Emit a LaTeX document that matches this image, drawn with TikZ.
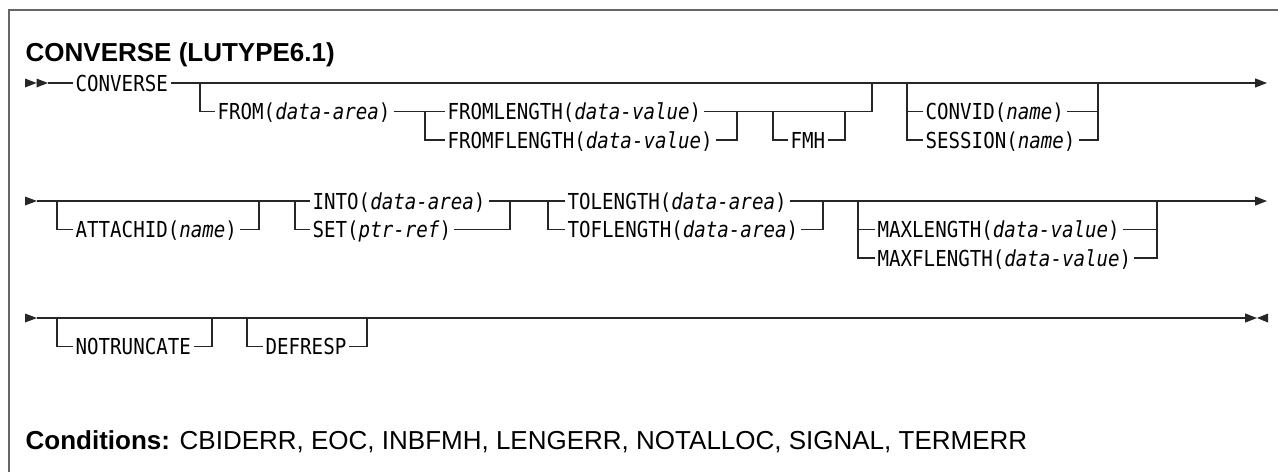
\documentclass[tikz,border=0pt]{standalone}
\usepackage{fontspec}
\setmainfont{Liberation Sans}
\setmonofont[FakeStretch=0.87]{DejaVu Sans Mono}
\usetikzlibrary{arrows.meta}

\begin{document}
\begin{tikzpicture}
      [x=1pt,y=-1pt,line width=1.3pt,>={Triangle[length=12pt,width=9pt]},
       every node/.style={inner sep=0pt}]

      \tikzstyle{kw} = [font=\fontsize{22}{26}\selectfont\ttfamily, anchor=west,
                        inner xsep=2.5pt, text height=17.5pt, text depth=1.5pt]
      \tikzstyle{rail} = [draw=black!85]
      \tikzstyle{frame} = [draw=black!60, line width=2pt]
      \tikzstyle{head} = [font=\fontsize{26}{30}\selectfont, anchor=base west]

      \useasboundingbox (0,0) rectangle (1278,472);
      \draw[frame] (9,472) -- (9,10) -- (1278,10);

      \node[head] (title) at (25,61) {\bfseries CONVERSE (LUTYPE6.1)};
      \node[head] (cond) at (25,449) {\textbf{Conditions:} CBIDERR, EOC, INBFMH, LENGERR, NOTALLOC, SIGNAL, TERMERR};

      % first line
      \fill[black!85] (25,78.5) -- (36.5,83) -- (25,87.5) -- cycle
                      (36.5,78.5) -- (48,83) -- (36.5,87.5) -- cycle;
      \coordinate (s1) at (48,83);
      \coordinate (e1) at (1267,83);
      \node[kw] (converse) at (72.5,83) {CONVERSE};
      \coordinate (a1) at (200,83);
      \node[kw] (from) at (214.5,111.5) {FROM(\textit{data-area})};
      \coordinate (b1) at (425,111.5);
      \node[kw] (flen) at (444.5,111.5) {FROMLENGTH(\textit{data-value})};
      \node[kw] (fflen) at (444.5,140) {FROMFLENGTH(\textit{data-value})};
      \coordinate (c1) at (737,111.5);
      \coordinate (f1) at (773,111.5);
      \node[kw] (fmh) at (787.5,140) {FMH};
      \coordinate (f2) at (845,111.5);
      \coordinate (m1) at (872,83);
      \coordinate (g1) at (907,83);
      \node[kw] (convid) at (922.5,111.5) {CONVID(\textit{name})};
      \node[kw] (session) at (922.5,140) {SESSION(\textit{name})};
      \coordinate (g2) at (1098,83);

      \draw[rail] (s1) -- (converse.west);
      \draw[rail,->] (converse.east) -- (e1);
      \draw[rail] (a1) |- (from.west) (from.east) -- (b1) -- (flen.west)
                  (b1) |- (fflen.west) (fflen.east) -| (c1)
                  (flen.east) -| (m1);
      \draw[rail] (f1) |- (fmh.west) (fmh.east) -| (f2);
      \draw[rail] (g1) |- (convid.west) (g1) |- (session.west)
                  (convid.east) -| (g2) (session.east) -| (g2);

      % second line
      \fill[black!85] (25,196.5) -- (37,201) -- (25,205.5) -- cycle;
      \coordinate (s2) at (37,201);
      \coordinate (e2) at (1267,201);
      \coordinate (h1) at (57,201);
      \node[kw] (attach) at (72.5,229.5) {ATTACHID(\textit{name})};
      \coordinate (h2) at (259,201);
      \coordinate (i1) at (295,201);
      \node[kw] (into) at (309.5,201) {INTO(\textit{data-area})};
      \node[kw] (set) at (309.5,229.5) {SET(\textit{ptr-ref})};
      \coordinate (i2) at (510,201);
      \coordinate (t1) at (548,201);
      \node[kw] (tolen) at (564.5,201) {TOLENGTH(\textit{data-area})};
      \node[kw] (toflen) at (564.5,229.5) {TOFLENGTH(\textit{data-area})};
      \coordinate (t2) at (823,201);
      \coordinate (x1) at (858,201);
      \node[kw] (maxlen) at (874.5,229.5) {MAXLENGTH(\textit{data-value})};
      \node[kw] (maxflen) at (874.5,258) {MAXFLENGTH(\textit{data-value})};
      \coordinate (x2) at (1157,201);

      \draw[rail] (s2) -- (into.west) (into.east) -- (tolen.west);
      \draw[rail,->] (tolen.east) -- (e2);
      \draw[rail] (h1) |- (attach.west) (attach.east) -| (h2);
      \draw[rail] (i1) |- (set.west) (set.east) -| (i2);
      \draw[rail] (t1) |- (toflen.west) (toflen.east) -| (t2);
      \draw[rail] (x1) |- (maxlen.west) (x1) |- (maxflen.west)
                  (maxlen.east) -| (x2) (maxflen.east) -| (x2);

      % third line
      \fill[black!85] (25,313.5) -- (37,318) -- (25,322.5) -- cycle;
      \coordinate (s3) at (37,318);
      \coordinate (e3) at (1257,318);
      \coordinate (n1) at (57,318);
      \node[kw] (notrunc) at (72.5,346.5) {NOTRUNCATE};
      \coordinate (n2) at (212,318);
      \coordinate (r1) at (247,318);
      \node[kw] (defresp) at (262.5,346.5) {DEFRESP};
      \coordinate (r2) at (367,318);
      \coordinate (k1) at (373,318);
      \coordinate (k2) at (398,318);

      \draw[rail,->] (s3) -- (e3);
      \draw[rail,line width=2.6pt] (k1) -- (k2);
      \draw[rail] (n1) |- (notrunc.west) (notrunc.east) -| (n2);
      \draw[rail] (r1) |- (defresp.west) (defresp.east) -| (r2);
      \fill[black!85] (1268,313.5) -- (1257,318) -- (1268,322.5) -- cycle;
\end{tikzpicture}
\end{document}
